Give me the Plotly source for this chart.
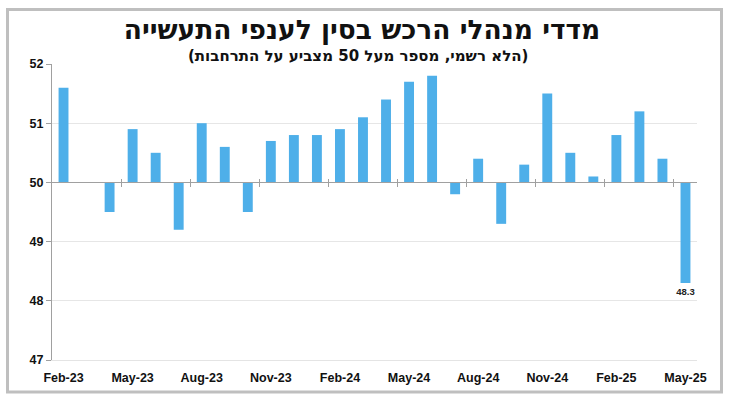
import plotly.graph_objects as go

months = ["Feb-23", "Mar-23", "Apr-23", "May-23", "Jun-23", "Jul-23", "Aug-23", "Sep-23",
          "Oct-23", "Nov-23", "Dec-23", "Jan-24", "Feb-24", "Mar-24", "Apr-24", "May-24",
          "Jun-24", "Jul-24", "Aug-24", "Sep-24", "Oct-24", "Nov-24", "Dec-24", "Jan-25",
          "Feb-25", "Mar-25", "Apr-25", "May-25"]
pmi = [51.6, 50.0, 49.5, 50.9, 50.5, 49.2, 51.0, 50.6,
       49.5, 50.7, 50.8, 50.8, 50.9, 51.1, 51.4, 51.7,
       51.8, 49.8, 50.4, 49.3, 50.3, 51.5, 50.5, 50.1,
       50.8, 51.2, 50.4, 48.3]
baseline = 50
y_ticks = [47, 48, 49, 50, 51, 52]
label_step = 3

title_text = "מדדי מנהלי הרכש בסין לענפי התעשייה"
subtitle_text = "(הלא רשמי, מספר מעל 50 מצביע על התרחבות)"

idx = list(range(len(months)))
label_idx = idx[::label_step]
label_text = [months[i] for i in label_idx]
sep_ticks = [i - 0.5 for i in label_idx[1:]]
bar_text = ["" for _ in pmi]
bar_text[-1] = f"{pmi[-1]:.1f}"

font_fam = "Liberation Sans, Arial, sans-serif"
heb_fam = "DejaVu Sans, sans-serif"
ymin, ymax = y_ticks[0], y_ticks[-1]
base_pos = (baseline - ymin) / (ymax - ymin)

fig = go.Figure()
fig.add_trace(go.Bar(
    x=idx, y=[v - baseline for v in pmi], base=baseline,
    marker=dict(color="#4EAFE9", line=dict(width=0)),
    width=0.43,
    text=bar_text, textposition="outside", cliponaxis=False, constraintext="none",
    textfont=dict(size=9.5, color="#222", family=font_fam, weight="bold"),
    showlegend=False, hoverinfo="skip",
))
# invisible helper traces to attach the baseline axes
for ax in ["x2", "x3"]:
    fig.add_trace(go.Scatter(x=idx, y=[baseline] * len(idx), xaxis=ax, mode="markers",
                             marker=dict(opacity=0), showlegend=False, hoverinfo="skip"))

xr = [-0.5, len(months) - 0.5]
fig.update_layout(
    width=730, height=398,
    margin=dict(l=52, r=33, t=64, b=38),
    paper_bgcolor="white", plot_bgcolor="white",
    font=dict(family=font_fam, color="#111"),
    xaxis=dict(range=xr, tickmode="array", tickvals=label_idx, ticktext=label_text,
               showgrid=False, zeroline=False, showline=True, linecolor="#E4E4E4", linewidth=1,
               ticks="outside", ticklen=6, tickcolor="rgba(0,0,0,0)",
               tickfont=dict(size=12.5, color="#111", family=font_fam, weight="bold")),
    xaxis2=dict(range=xr, overlaying="x", anchor="free", position=base_pos,
                showline=True, linecolor="#A0A0A0", linewidth=1,
                tickmode="array", tickvals=sep_ticks, ticks="outside", ticklen=4,
                tickcolor="#A0A0A0", showticklabels=False, showgrid=False, zeroline=False),
    xaxis3=dict(range=xr, overlaying="x", anchor="free", position=base_pos,
                showline=False,
                tickmode="array", tickvals=sep_ticks, ticks="inside", ticklen=3,
                tickcolor="#A0A0A0", showticklabels=False, showgrid=False, zeroline=False),
    yaxis=dict(range=[ymin, ymax], tickvals=y_ticks, showgrid=True, gridcolor="#E6E6E6",
               gridwidth=1, zeroline=False, showline=True, linecolor="#A0A0A0", linewidth=1,
               ticks="outside", ticklen=5, tickcolor="#A0A0A0",
               tickfont=dict(size=12.5, color="#111", family=font_fam, weight="bold")),
    title=dict(text=title_text, x=362 / 730, xanchor="center", xref="container",
               y=1 - 30 / 398, yanchor="middle", yref="container",
               font=dict(size=26.5, color="#111", family=heb_fam, weight="bold")),
    annotations=[dict(text=subtitle_text, xref="paper", yref="paper",
                      x=(358 - 52) / 645, y=(360 - 56) / 296, xanchor="center", yanchor="middle",
                      showarrow=False,
                      font=dict(size=15, color="#111", family=heb_fam, weight="bold"))],
    shapes=[dict(type="rect", xref="paper", yref="paper",
                 x0=(7.5 - 52) / 645, x1=(721.5 - 52) / 645,
                 y0=(360 - 392) / 296, y1=(360 - 9.5) / 296,
                 line=dict(color="#BFBFBF", width=3), fillcolor="rgba(0,0,0,0)", layer="below")],
    bargap=0.57,
)
fig.write_html("out.html", config={"displayModeBar": False},
               post_script="document.body.style.margin='0';")
